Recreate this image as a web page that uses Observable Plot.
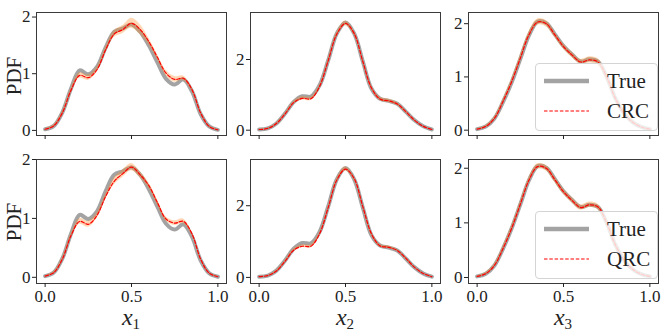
<!DOCTYPE html>
<html>
<head>
<meta charset="utf-8">
<script src="https://cdn.jsdelivr.net/npm/d3@7"></script>
<script src="https://cdn.jsdelivr.net/npm/@observablehq/plot@0.6"></script>
<style>
  html, body { margin: 0; padding: 0; background: #fff; }
  #wrap { position: relative; width: 664px; height: 332px; overflow: hidden; background: #fff; font-family: "Liberation Serif", serif; color: #222; }
  #wrap svg { position: absolute; }
  .ylab { position: absolute; font-size: 21px; transform: translate(-50%, -50%) rotate(-90deg); white-space: nowrap; }
  .xlab { position: absolute; font-size: 24px; line-height: 24px; transform: translate(-50%, -50%); white-space: nowrap; }
  .xlab sub { font-size: 15px; font-style: normal; vertical-align: -4px; line-height: 0; }
  .legend { position: absolute; border: 1px solid #d4d4d4; border-radius: 4px; background: rgba(255,255,255,0.8); box-sizing: border-box; }
  .legend .txt { position: absolute; font-size: 21px; transform: translateY(-50%); white-space: nowrap; }
</style>
</head>
<body>
<div id="wrap"></div>
<script>
// ---- data ----
const xs = [0, 0.05, 0.1, 0.15, 0.2, 0.25, 0.3, 0.35, 0.4, 0.45, 0.5, 0.55, 0.6, 0.65, 0.7, 0.75, 0.8, 0.85, 0.9, 0.95, 1.0];

const trueX1 = [0.02, 0.08, 0.32, 0.74, 1.06, 0.99, 1.12, 1.46, 1.74, 1.80, 1.87, 1.74, 1.50, 1.20, 0.91, 0.81, 0.90, 0.69, 0.29, 0.07, 0.01];
const trueX2 = [0.02, 0.05, 0.19, 0.47, 0.80, 0.96, 0.95, 1.27, 1.98, 2.74, 3.05, 2.74, 1.95, 1.18, 0.89, 0.83, 0.75, 0.52, 0.28, 0.11, 0.02];
const trueX3 = [0.02, 0.07, 0.22, 0.53, 0.90, 1.34, 1.78, 2.04, 2.01, 1.80, 1.58, 1.42, 1.29, 1.33, 1.29, 1.00, 0.60, 0.32, 0.15, 0.06, 0.02];

const crcX1 = [0.02, 0.08, 0.31, 0.71, 0.97, 0.93, 1.07, 1.42, 1.70, 1.78, 1.89, 1.78, 1.57, 1.29, 1.01, 0.90, 0.92, 0.72, 0.31, 0.07, 0.01];
const crcX2 = [0.02, 0.05, 0.19, 0.46, 0.78, 0.90, 0.89, 1.24, 1.97, 2.72, 3.02, 2.74, 1.95, 1.20, 0.88, 0.83, 0.74, 0.52, 0.28, 0.11, 0.02];
const crcX3 = [0.02, 0.07, 0.22, 0.54, 0.91, 1.35, 1.79, 2.03, 2.00, 1.79, 1.57, 1.41, 1.28, 1.32, 1.28, 1.00, 0.60, 0.32, 0.15, 0.06, 0.02];

const qrcX1 = [0.02, 0.08, 0.31, 0.71, 0.95, 0.90, 1.05, 1.37, 1.63, 1.76, 1.87, 1.74, 1.56, 1.27, 0.99, 0.92, 0.95, 0.74, 0.31, 0.07, 0.01];
const qrcX2 = [0.02, 0.05, 0.18, 0.45, 0.76, 0.87, 0.87, 1.22, 1.95, 2.72, 3.02, 2.76, 1.98, 1.22, 0.88, 0.84, 0.75, 0.53, 0.28, 0.11, 0.02];
const qrcX3 = [0.02, 0.07, 0.22, 0.53, 0.90, 1.34, 1.78, 2.03, 2.00, 1.79, 1.57, 1.41, 1.28, 1.33, 1.29, 1.00, 0.60, 0.32, 0.15, 0.06, 0.02];

// half-widths of the shaded bands
const crcBandX1 = [0.01, 0.02, 0.03, 0.04, 0.05, 0.05, 0.05, 0.05, 0.06, 0.07, 0.09, 0.09, 0.06, 0.05, 0.05, 0.05, 0.04, 0.03, 0.02, 0.01, 0.01];
const crcBandX2 = [0.01, 0.01, 0.02, 0.03, 0.04, 0.05, 0.05, 0.04, 0.05, 0.06, 0.07, 0.06, 0.05, 0.05, 0.05, 0.05, 0.04, 0.03, 0.02, 0.01, 0.01];
const crcBandX3 = [0.01, 0.02, 0.03, 0.04, 0.05, 0.06, 0.06, 0.06, 0.06, 0.05, 0.05, 0.05, 0.05, 0.06, 0.06, 0.05, 0.04, 0.03, 0.02, 0.01, 0.01];
const qrcBandX1 = [0.01, 0.02, 0.03, 0.04, 0.05, 0.05, 0.05, 0.05, 0.06, 0.06, 0.06, 0.05, 0.05, 0.05, 0.04, 0.04, 0.04, 0.03, 0.02, 0.01, 0.01];
const qrcBandX2 = [0.01, 0.01, 0.02, 0.03, 0.04, 0.04, 0.05, 0.04, 0.05, 0.05, 0.06, 0.05, 0.05, 0.05, 0.04, 0.04, 0.03, 0.03, 0.02, 0.01, 0.01];
const qrcBandX3 = [0.01, 0.02, 0.03, 0.04, 0.05, 0.05, 0.05, 0.05, 0.05, 0.05, 0.05, 0.05, 0.05, 0.05, 0.05, 0.05, 0.04, 0.03, 0.02, 0.01, 0.01];

const xTicks = [0, 0.5, 1.0];
const yTicksA = [0, 1, 2];
const yTicksB = [0, 2];
const xLabels = ["1", "2", "3"];
const yLabel = "PDF";
const seriesTrue = "True";
const methodNames = ["CRC", "QRC"];

// ---- layout ----
const colLeft = [36, 250, 468];
const rowTop = [12, 159];
const frameW = 190;
const frameH = [123, 124];
const ML = 40, MR = 4, MT = 4, MB = 26;
const serif = "'Liberation Serif', serif";

const panels = [
  {r: 0, c: 0, truth: trueX1, est: crcX1, band: crcBandX1, yd: [-0.09, 2.08], yt: yTicksA},
  {r: 0, c: 1, truth: trueX2, est: crcX2, band: crcBandX2, yd: [-0.15, 3.33], yt: yTicksB},
  {r: 0, c: 2, truth: trueX3, est: crcX3, band: crcBandX3, yd: [-0.10, 2.21], yt: yTicksA},
  {r: 1, c: 0, truth: trueX1, est: qrcX1, band: qrcBandX1, yd: [-0.105, 2.0], yt: yTicksA},
  {r: 1, c: 1, truth: trueX2, est: qrcX2, band: qrcBandX2, yd: [-0.17, 3.29], yt: yTicksB},
  {r: 1, c: 2, truth: trueX3, est: qrcX3, band: qrcBandX3, yd: [-0.11, 2.16], yt: yTicksA}
];

const wrap = document.getElementById("wrap");
const curve = "catmull-rom";

for (const p of panels) {
  const data = xs.map((x, i) => ({x, t: p.truth[i], e: p.est[i], lo: p.est[i] - p.band[i], hi: p.est[i] + p.band[i]}));
  const svg = Plot.plot({
    width: ML + frameW + MR,
    height: MT + frameH[p.r] + MB,
    marginLeft: ML, marginRight: MR, marginTop: MT, marginBottom: MB,
    style: {fontFamily: serif, fontSize: "17px", color: "#222", background: "transparent", overflow: "visible"},
    x: {domain: [-0.05, 1.05]},
    y: {domain: p.yd},
    marks: [
      Plot.line(data, {x: "x", y: "t", stroke: "#8c8c8c", strokeOpacity: 0.8, strokeWidth: 4, curve}),
      Plot.areaY(data, {x: "x", y1: "lo", y2: "hi", fill: "#ff8c2a", fillOpacity: 0.35, curve}),
      Plot.line(data, {x: "x", y: "e", stroke: "#ff0000", strokeWidth: 1.2, strokeDasharray: "3.5,1.8", curve}),
      Plot.frame({stroke: "#3a3a3a", strokeWidth: 1}),
      Plot.axisX({ticks: xTicks, tickSize: 4, tickPadding: 2, label: null, fontFamily: serif,
        tickFormat: p.r === 1 ? (d => d3.format(".1f")(d)) : (() => ""), fontSize: 17}),
      Plot.axisY({ticks: p.yt, tickSize: 4, tickPadding: 2, label: null, fontFamily: serif, tickFormat: d => String(d), fontSize: 17})
    ]
  });
  svg.style.left = (colLeft[p.c] - ML) + "px";
  svg.style.top = (rowTop[p.r] - MT) + "px";
  wrap.appendChild(svg);
}

// y labels
for (const cy of [76, 222]) {
  const d = document.createElement("div");
  d.className = "ylab";
  d.style.left = "14px"; d.style.top = cy + "px";
  d.textContent = yLabel;
  wrap.appendChild(d);
}
// x labels
xLabels.forEach((s, c) => {
  const d = document.createElement("div");
  d.className = "xlab";
  d.style.left = (colLeft[c] + 0.55 / 1.1 * frameW) + "px";
  d.style.top = "317px";
  d.innerHTML = "<i>x</i><sub>" + s + "</sub>";
  wrap.appendChild(d);
});
// legends
const legendTops = [63, 211];
methodNames.forEach((name, r) => {
  const lg = document.createElement("div");
  lg.className = "legend";
  lg.style.left = "535px"; lg.style.top = legendTops[r] + "px";
  lg.style.width = "123px"; lg.style.height = "68px";
  lg.innerHTML =
    '<svg width="60" height="68" style="position:absolute;left:0;top:0">' +
    '<line x1="8" x2="53" y1="17" y2="17" stroke="#8c8c8c" stroke-opacity="0.8" stroke-width="4.5"/>' +
    '<line x1="8" x2="53" y1="47" y2="47" stroke="#ff0000" stroke-width="1.2" stroke-dasharray="3.5,1.8"/></svg>' +
    '<div class="txt" style="left:71px;top:17px">' + seriesTrue + '</div>' +
    '<div class="txt" style="left:71px;top:47px">' + name + '</div>';
  wrap.appendChild(lg);
});
</script>
</body>
</html>
